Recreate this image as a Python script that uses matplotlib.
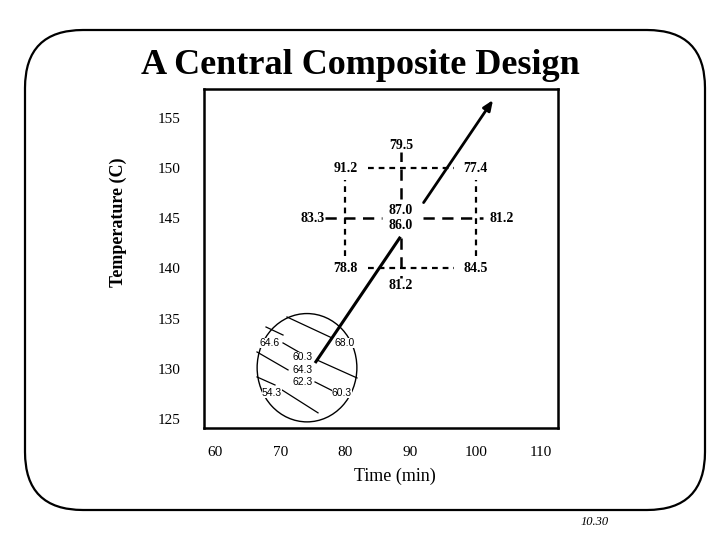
import matplotlib
matplotlib.use("Agg")
import matplotlib.pyplot as plt
from matplotlib.patches import FancyBboxPatch, Ellipse
import numpy as np

# ---- data ----
x_ticks = [60, 70, 80, 90, 100, 110]
y_ticks = [125, 130, 135, 140, 145, 150, 155]

# factorial (square) design
fact_x = [80, 100, 80, 100]
fact_y = [150, 150, 140, 140]
fact_resp = ["91.2", "77.4", "78.8", "84.5"]

# center point
center_x = 88.5
center_y = 145.0
center_resp = "87.0\n86.0"

# axial points
axial_x = [74.9, 104.0, 88.5, 88.5]
axial_y = [145.0, 145.0, 152.3, 138.25]
axial_resp = ["83.3", "81.2", "79.5", "81.2"]

# steepest ascent path
path_x = [75.34, 102.64]
path_y = [130.57, 156.79]

# first design region (circle) and its contour lines
circ_x, circ_y = 74.11, 130.1
circ_w, circ_h = 15.3, 10.8
cont_x0 = [71.04, 67.82, 70.43, 66.44, 75.64, 75.34, 66.44, 70.28]
cont_y0 = [135.16, 134.16, 132.57, 131.67, 130.87, 128.68, 129.18, 127.88]
cont_x1 = [77.94, 70.43, 73.10, 71.20, 81.78, 78.40, 69.20, 75.80]
cont_y1 = [133.07, 133.36, 131.57, 129.88, 129.08, 127.68, 128.38, 125.60]
cont_lab = ["64.6", "68.0", "60.3", "64.3", "62.3", "54.3", "60.3"]
cont_lab_x = [68.44, 79.94, 73.50, 73.50, 73.50, 68.74, 79.48]
cont_lab_y = [132.57, 132.57, 131.17, 129.88, 128.68, 127.58, 127.58]

# ---- figure ----
fig = plt.figure(figsize=(7.2, 5.4), dpi=100)

# background frame (pixel coordinates)
bg = fig.add_axes([0, 0, 1, 1])
bg.set_xlim(0, 720)
bg.set_ylim(540, 0)
bg.axis("off")
bg.add_patch(FancyBboxPatch((25, 30), 680, 480,
                            boxstyle="round,pad=0,rounding_size=58",
                            fill=False, lw=1.6, ec="black"))

serif = "Liberation Serif"
fig.text(0.5, 1 - 65 / 540, "A Central Composite Design", ha="center", va="center",
         family=serif, weight="bold", fontsize=26)
fig.text(595 / 720, 1 - 522 / 540, "10.30", ha="center", va="center",
         family=serif, style="italic", fontsize=9)

ax = fig.add_axes([204 / 720, 1 - 428 / 540, 354 / 720, 339 / 540])
ax.set_xlim(58.31, 112.61)
ax.set_ylim(124.09, 157.89)
for s in ax.spines.values():
    s.set_linewidth(1.8)
ax.set_xticks(x_ticks)
ax.set_yticks(y_ticks)
ax.tick_params(length=0, labelsize=11)
ax.tick_params(axis="x", pad=13)
ax.tick_params(axis="y", pad=17)
for t in ax.get_xticklabels() + ax.get_yticklabels():
    t.set_family(serif)
ax.set_xlabel("Time (min)", family=serif, fontsize=13, va="center")
ax.xaxis.set_label_coords((395 - 204) / 354, (428 - 476) / 339)
ax.set_ylabel("Temperature (C)", family=serif, fontsize=13, weight="bold", va="center")
ax.yaxis.set_label_coords((118 - 204) / 354, (428 - 222) / 339)

bold = dict(family=serif, weight="bold", fontsize=10, ha="center", va="center")

# factorial labels
for x, y, r in zip(fact_x, fact_y, fact_resp):
    ax.text(x, y, r, **bold)
ax.text(center_x, center_y, center_resp, linespacing=1.2, **bold)
for x, y, r in zip(axial_x, axial_y, axial_resp):
    ax.text(x, y, r, **bold)

# dashed square with gaps at corners
gx, gy = 3.4, 1.2
sq_style = dict(color="black", lw=1.6, ls=(0, (2.6, 2.2)))
xl, xr = min(fact_x), max(fact_x)
yb, yt = min(fact_y), max(fact_y)
for y in (yb, yt):
    ax.plot([xl + gx, xr - gx], [y, y], **sq_style)
for x in (xl, xr):
    ax.plot([x, x], [yb + gy, yt - gy], **sq_style)

# axial dashed lines
ax_style = dict(color="black", lw=1.8, ls=(0, (4.5, 3.0)))
ax.plot([axial_x[0] + 2.0, center_x - 2.9], [center_y, center_y], **ax_style)
ax.plot([center_x + 3.4, axial_x[1] - 2.9], [center_y, center_y], **ax_style)
ax.plot([center_x, center_x], [center_y + 1.9, axial_y[2] - 0.7], **ax_style)
ax.plot([center_x, center_x], [center_y - 2.0, axial_y[3] + 0.8], **ax_style)

# circle region with contours
ax.add_patch(Ellipse((circ_x, circ_y), circ_w, circ_h, fill=False, lw=1.0, ec="black"))
for x0, y0, x1, y1 in zip(cont_x0, cont_y0, cont_x1, cont_y1):
    ax.plot([x0, x1], [y0, y1], color="black", lw=0.9)
for x, y, t in zip(cont_lab_x, cont_lab_y, cont_lab):
    ax.text(x, y, t, family="Liberation Sans", fontsize=7.5, ha="center", va="center",
            bbox=dict(fc="white", ec="none", pad=0.3))

# path of steepest ascent (with gap near center labels)
px = np.array(path_x)
py = np.array(path_y)
def along(t):
    return px[0] + t * (px[1] - px[0]), py[0] + t * (py[1] - py[0])
a0 = along(0.0)
a1 = along(0.48)
a2 = along(0.61)
a3 = along(1.0)
ax.plot([a0[0], a1[0]], [a0[1], a1[1]], color="black", lw=2.2,
        solid_capstyle="butt", zorder=5)
ax.annotate("", xy=a3, xytext=a2, zorder=5,
            arrowprops=dict(arrowstyle="-|>,head_length=0.6,head_width=0.25",
                            color="black", lw=2.0, shrinkA=0, shrinkB=0))

fig.savefig("out.png", dpi=100)
